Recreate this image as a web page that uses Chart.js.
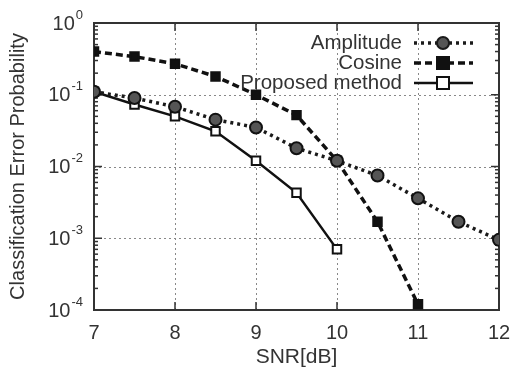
<!DOCTYPE html>
<html>
<head>
<meta charset="utf-8">
<script src="https://cdn.jsdelivr.net/npm/chart.js@4"></script>
<style>
  html, body { margin: 0; padding: 0; background: #fff; }
  #wrap { width: 515px; height: 374px; }
</style>
</head>
<body>
<div id="wrap"><canvas id="c" width="515" height="374"></canvas></div>
<script>
// values
const snrAmplitude = [7, 7.5, 8, 8.5, 9, 9.5, 10, 10.5, 11, 11.5, 12];
const amplitude = [0.11, 0.09, 0.068, 0.045, 0.035, 0.018, 0.012, 0.0075, 0.0036, 0.0017, 0.00095];
const snrCosine = [7, 7.5, 8, 8.5, 9, 9.5, 10, 10.5, 11];
const cosine = [0.4, 0.34, 0.27, 0.18, 0.1, 0.052, 0.012, 0.0017, 0.00012];
const snrProposed = [7, 7.5, 8, 8.5, 9, 9.5, 10];
const proposed = [0.11, 0.073, 0.05, 0.031, 0.012, 0.0043, 0.0007];
const xTicks = [7, 8, 9, 10, 11, 12];
const yDecades = [0, -1, -2, -3, -4];

const FONT = "'Liberation Sans', Arial, sans-serif";
const toPts = (xs, ys) => xs.map((x, i) => ({ x: x, y: ys[i] }));

// grid, frame, inner ticks, y labels with superscripts, and the legend
const framePlugin = {
  id: "frame",
  beforeDatasetsDraw(chart) {
    const { ctx, chartArea: a, scales } = chart;
    const xs = scales.x, ys = scales.y;
    ctx.save();
    ctx.strokeStyle = "#888";
    ctx.lineWidth = 1;
    ctx.setLineDash([2, 3]);
    xTicks.slice(1, -1).forEach(v => {
      const px = Math.round(xs.getPixelForValue(v)) + 0.5;
      ctx.beginPath(); ctx.moveTo(px, a.top); ctx.lineTo(px, a.bottom); ctx.stroke();
    });
    yDecades.slice(1, -1).forEach(d => {
      const py = Math.round(ys.getPixelForValue(Math.pow(10, d))) + 0.5;
      ctx.beginPath(); ctx.moveTo(a.left, py); ctx.lineTo(a.right, py); ctx.stroke();
    });
    ctx.setLineDash([]);
    ctx.strokeStyle = "#333";
    ctx.lineWidth = 1.5;
    // inner ticks on x
    xTicks.forEach(v => {
      const px = xs.getPixelForValue(v);
      ctx.beginPath(); ctx.moveTo(px, a.bottom); ctx.lineTo(px, a.bottom - 8); ctx.stroke();
      ctx.beginPath(); ctx.moveTo(px, a.top); ctx.lineTo(px, a.top + 8); ctx.stroke();
    });
    // inner ticks on y (major + minor)
    yDecades.forEach(d => {
      for (let m = 1; m <= 9; m++) {
        const v = m * Math.pow(10, d);
        if (v > 1) break;
        const py = ys.getPixelForValue(v);
        const len = m === 1 ? 8 : 4;
        ctx.beginPath(); ctx.moveTo(a.left, py); ctx.lineTo(a.left + len, py); ctx.stroke();
        ctx.beginPath(); ctx.moveTo(a.right, py); ctx.lineTo(a.right - len, py); ctx.stroke();
      }
    });
    ctx.lineWidth = 2;
    ctx.strokeRect(a.left, a.top, a.right - a.left, a.bottom - a.top);
    // y tick labels 10^n
    ctx.fillStyle = "#333";
    ctx.textBaseline = "middle";
    yDecades.forEach(d => {
      const py = ys.getPixelForValue(Math.pow(10, d));
      const sup = String(d);
      ctx.font = "13px " + FONT;
      const supW = ctx.measureText(sup).width;
      ctx.textAlign = "right";
      ctx.fillText(sup, a.left - 11, py - 8);
      ctx.font = "20px " + FONT;
      ctx.fillText("10", a.left - 12 - supW, py + 1);
    });
    ctx.restore();
  },
  afterDatasetsDraw(chart) {
    const { ctx } = chart;
    const textRight = 402, x0 = 414, x1 = 473, mx = 443;
    const rows = [43, 63, 83];
    ctx.save();
    chart.data.datasets.forEach((ds, i) => {
      const y = rows[i];
      ctx.font = "20.5px " + FONT;
      ctx.fillStyle = "#333";
      ctx.textAlign = "right";
      ctx.textBaseline = "middle";
      ctx.fillText(ds.label, textRight, y);
      ctx.strokeStyle = ds.borderColor;
      ctx.lineWidth = ds.borderWidth;
      ctx.setLineDash(ds.borderDash || []);
      ctx.beginPath(); ctx.moveTo(x0, y); ctx.lineTo(x1, y); ctx.stroke();
      ctx.setLineDash([]);
      ctx.lineWidth = ds.pointBorderWidth;
      ctx.fillStyle = ds.pointBackgroundColor;
      const r = ds.pointRadius;
      ctx.beginPath();
      if (ds.pointStyle === "circle") ctx.arc(mx, y, r, 0, Math.PI * 2);
      else ctx.rect(mx - r, y - r, 2 * r, 2 * r);
      ctx.fill(); ctx.stroke();
    });
    ctx.restore();
  }
};

new Chart(document.getElementById("c").getContext("2d"), {
  type: "line",
  data: {
    datasets: [
      {
        label: "Amplitude",
        data: toPts(snrAmplitude, amplitude),
        borderColor: "#1a1a1a",
        borderWidth: 3.5,
        borderDash: [3, 4],
        pointStyle: "circle",
        pointRadius: 6,
        pointBorderWidth: 2,
        pointBackgroundColor: "#555",
        pointBorderColor: "#111",
      },
      {
        label: "Cosine",
        data: toPts(snrCosine, cosine),
        borderColor: "#111",
        borderWidth: 3.5,
        borderDash: [7, 4],
        pointStyle: "rect",
        pointRadius: 6,
        pointBorderWidth: 2,
        pointBackgroundColor: "#111",
        pointBorderColor: "#111",
      },
      {
        label: "Proposed method",
        data: toPts(snrProposed, proposed),
        borderColor: "#111",
        borderWidth: 2.5,
        pointStyle: "rect",
        pointRadius: 6,
        pointBorderWidth: 2,
        pointBackgroundColor: "#fff",
        pointBorderColor: "#111",
      },
    ],
  },
  options: {
    responsive: false,
    animation: false,
    layout: { padding: { top: 23, right: 16, left: 0, bottom: 0 } },
    plugins: { legend: { display: false }, tooltip: { enabled: false } },
    scales: {
      x: {
        type: "linear",
        min: 7,
        max: 12,
        afterBuildTicks: (s) => { s.ticks = xTicks.map(v => ({ value: v })); },
        afterFit: (s) => { s.height = 64; },
        grid: { display: false },
        border: { display: false },
        ticks: { color: "#333", font: { family: FONT, size: 20 }, padding: 3 },
        title: { display: true, text: "SNR[dB]", color: "#333", font: { family: FONT, size: 21 }, padding: { top: 4 } },
      },
      y: {
        type: "logarithmic",
        min: 1e-4,
        max: 1,
        afterFit: (s) => { s.width = 94; },
        grid: { display: false },
        border: { display: false },
        ticks: { display: false },
        title: { display: true, text: "Classification Error Probability", color: "#333", font: { family: FONT, size: 20 }, padding: { top: 6, bottom: 0 } },
      },
    },
  },
  plugins: [framePlugin],
});
</script>
</body>
</html>
